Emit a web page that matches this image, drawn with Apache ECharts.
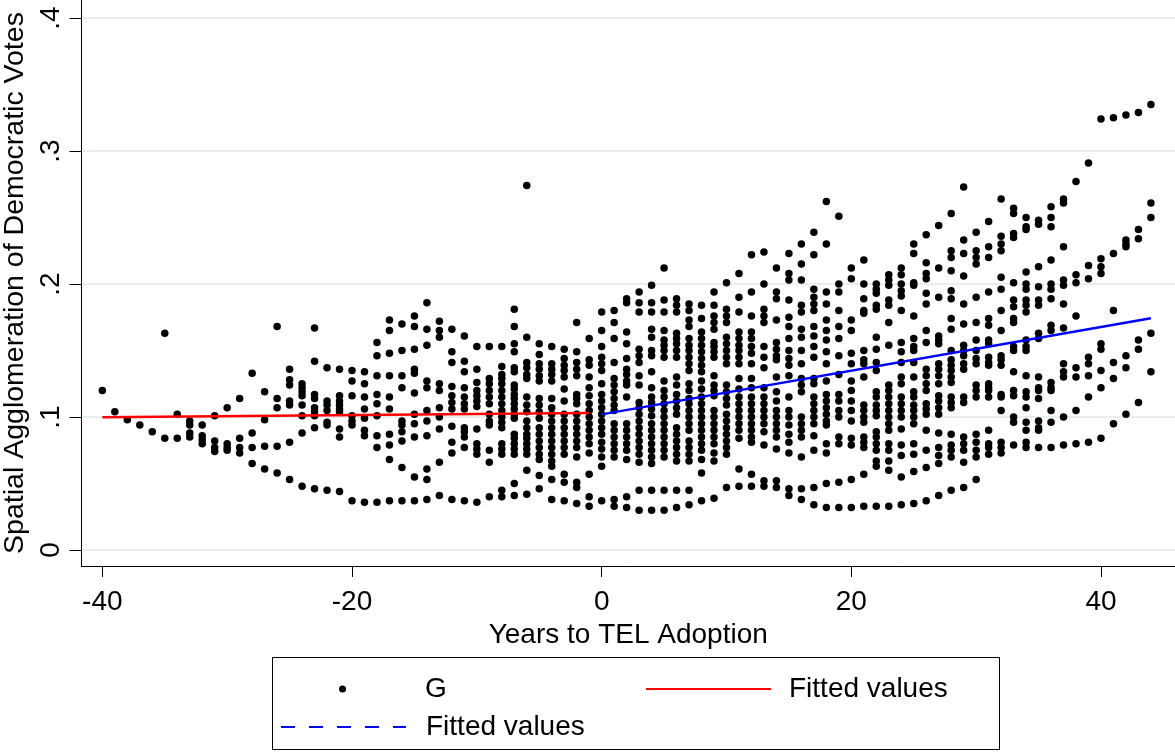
<!DOCTYPE html>
<html lang="en">
<head>
    <meta charset="UTF-8">
    <title>Spatial Agglomeration of Democratic Votes</title>
    <script src="https://cdn.jsdelivr.net/npm/echarts@6/dist/echarts.min.js"></script>
    <style>
        html, body { margin: 0; padding: 0; background: #fff; }
    </style>
</head>
<body>
    <div id="main" style="width: 1175px; height: 754px;"></div>

    <script>
        // Years to TEL adoption (one column of dots per year)
        var years = [-40, -39, -38, -37, -36, -35, -34, -33, -32, -31, -30, -29, -28, -27, -26, -25, -24, -23, -22, -21,
            -20, -19, -18, -17, -16, -15, -14, -13, -12, -11, -10, -9, -8, -7, -6, -5, -4, -3, -2, -1,
            0, 1, 2, 3, 4, 5, 6, 7, 8, 9, 10, 11, 12, 13, 14, 15, 16, 17, 18, 19, 20,
            21, 22, 23, 24, 25, 26, 27, 28, 29, 30, 31, 32, 33, 34, 35, 36, 37, 38, 39, 40, 41, 42, 43, 44];

        // G values, one list per year (same order as years)
        var gValues = [
            [0.120], [0.104], [0.098], [0.094], [0.089],
            [0.163, 0.084], [0.102, 0.084],
            [0.097, 0.094, 0.088, 0.085],
            [0.094, 0.086, 0.083, 0.080],
            [0.101, 0.082, 0.077, 0.074],
            [0.107, 0.080, 0.077, 0.075],
            [0.114, 0.084, 0.077, 0.073],
            [0.133, 0.088, 0.077, 0.065],
            [0.119, 0.098, 0.078, 0.061],
            [0.168, 0.114, 0.107, 0.078, 0.058],
            [0.136, 0.128, 0.124, 0.112, 0.109, 0.081, 0.053],
            [0.125, 0.122, 0.119, 0.116, 0.109, 0.101, 0.088, 0.048],
            [0.167, 0.142, 0.117, 0.114, 0.107, 0.104, 0.101, 0.092, 0.046],
            [0.137, 0.112, 0.109, 0.105, 0.096, 0.094, 0.045],
            [0.136, 0.116, 0.112, 0.109, 0.106, 0.104, 0.091, 0.085, 0.044],
            // -20
            [0.135, 0.127, 0.116, 0.101, 0.097, 0.094, 0.037],
            [0.134, 0.125, 0.115, 0.106, 0.099, 0.090, 0.086, 0.036],
            [0.156, 0.146, 0.131, 0.117, 0.110, 0.101, 0.086, 0.077, 0.036],
            [0.173, 0.165, 0.148, 0.131, 0.115, 0.106, 0.087, 0.079, 0.068, 0.037],
            [0.170, 0.150, 0.131, 0.122, 0.097, 0.094, 0.089, 0.082, 0.062, 0.037],
            [0.176, 0.168, 0.151, 0.136, 0.133, 0.118, 0.102, 0.095, 0.085, 0.055, 0.037],
            [0.186, 0.166, 0.154, 0.127, 0.122, 0.105, 0.097, 0.086, 0.061, 0.053, 0.038],
            [0.172, 0.165, 0.160, 0.125, 0.120, 0.107, 0.100, 0.091, 0.066, 0.041],
            [0.166, 0.149, 0.141, 0.123, 0.116, 0.111, 0.106, 0.093, 0.081, 0.073, 0.038],
            [0.161, 0.142, 0.134, 0.122, 0.115, 0.110, 0.106, 0.092, 0.089, 0.085, 0.077, 0.037],
            [0.153, 0.136, 0.126, 0.120, 0.116, 0.112, 0.108, 0.091, 0.080, 0.076, 0.072, 0.036],
            [0.153, 0.129, 0.125, 0.120, 0.115, 0.110, 0.102, 0.097, 0.094, 0.075, 0.066, 0.040],
            [0.153, 0.138, 0.132, 0.129, 0.125, 0.120, 0.115, 0.110, 0.105, 0.100, 0.096, 0.092, 0.080, 0.076, 0.072, 0.045, 0.040],
            [0.181, 0.168, 0.155, 0.149, 0.137, 0.134, 0.124, 0.121, 0.117, 0.114, 0.110, 0.106, 0.102, 0.099, 0.087, 0.084, 0.080, 0.076, 0.072, 0.050, 0.041],
            [0.274, 0.160, 0.141, 0.137, 0.132, 0.129, 0.115, 0.109, 0.104, 0.097, 0.092, 0.087, 0.084, 0.080, 0.076, 0.072, 0.060, 0.042],
            [0.155, 0.147, 0.140, 0.136, 0.131, 0.127, 0.114, 0.109, 0.104, 0.099, 0.092, 0.087, 0.082, 0.077, 0.072, 0.068, 0.056, 0.046],
            [0.153, 0.140, 0.136, 0.132, 0.127, 0.114, 0.107, 0.102, 0.097, 0.092, 0.087, 0.082, 0.077, 0.072, 0.067, 0.063, 0.053, 0.038],
            [0.151, 0.144, 0.139, 0.135, 0.130, 0.121, 0.112, 0.102, 0.097, 0.092, 0.087, 0.082, 0.077, 0.072, 0.057, 0.051, 0.037],
            [0.171, 0.149, 0.141, 0.136, 0.131, 0.117, 0.114, 0.110, 0.102, 0.097, 0.092, 0.087, 0.082, 0.077, 0.070, 0.051, 0.047, 0.035],
            [0.159, 0.143, 0.139, 0.130, 0.122, 0.116, 0.110, 0.105, 0.100, 0.095, 0.090, 0.085, 0.080, 0.073, 0.057, 0.040, 0.033],
            // 0
            [0.179, 0.165, 0.153, 0.145, 0.140, 0.135, 0.125, 0.117, 0.112, 0.107, 0.102, 0.097, 0.092, 0.087, 0.081, 0.076, 0.070, 0.063, 0.037],
            [0.180, 0.171, 0.159, 0.141, 0.129, 0.124, 0.119, 0.114, 0.109, 0.105, 0.095, 0.090, 0.085, 0.080, 0.075, 0.070, 0.038, 0.033],
            [0.189, 0.186, 0.164, 0.155, 0.144, 0.136, 0.132, 0.127, 0.124, 0.115, 0.095, 0.090, 0.085, 0.080, 0.075, 0.068, 0.040, 0.032],
            [0.194, 0.186, 0.179, 0.151, 0.146, 0.141, 0.131, 0.124, 0.111, 0.107, 0.102, 0.097, 0.092, 0.087, 0.082, 0.077, 0.072, 0.066, 0.045, 0.030],
            [0.199, 0.186, 0.179, 0.166, 0.160, 0.150, 0.146, 0.134, 0.122, 0.115, 0.111, 0.106, 0.101, 0.095, 0.090, 0.085, 0.080, 0.075, 0.070, 0.065, 0.045, 0.030],
            [0.212, 0.188, 0.179, 0.165, 0.158, 0.154, 0.150, 0.145, 0.127, 0.120, 0.115, 0.110, 0.105, 0.100, 0.095, 0.090, 0.085, 0.080, 0.075, 0.070, 0.045, 0.030],
            [0.189, 0.184, 0.179, 0.163, 0.159, 0.155, 0.150, 0.145, 0.130, 0.124, 0.117, 0.112, 0.107, 0.102, 0.092, 0.087, 0.082, 0.077, 0.072, 0.067, 0.045, 0.032],
            [0.185, 0.180, 0.173, 0.168, 0.159, 0.154, 0.150, 0.145, 0.140, 0.135, 0.125, 0.120, 0.114, 0.110, 0.105, 0.100, 0.095, 0.090, 0.082, 0.077, 0.072, 0.067, 0.045, 0.034],
            [0.184, 0.174, 0.164, 0.159, 0.154, 0.149, 0.144, 0.139, 0.134, 0.127, 0.121, 0.115, 0.110, 0.105, 0.100, 0.095, 0.090, 0.085, 0.080, 0.075, 0.068, 0.058, 0.037],
            [0.194, 0.184, 0.176, 0.171, 0.166, 0.156, 0.153, 0.149, 0.145, 0.131, 0.124, 0.120, 0.116, 0.105, 0.100, 0.095, 0.090, 0.085, 0.080, 0.073, 0.067, 0.039],
            [0.201, 0.181, 0.176, 0.171, 0.160, 0.155, 0.150, 0.145, 0.140, 0.124, 0.119, 0.114, 0.109, 0.102, 0.097, 0.092, 0.087, 0.082, 0.077, 0.072, 0.047],
            [0.208, 0.190, 0.179, 0.164, 0.159, 0.154, 0.150, 0.145, 0.140, 0.129, 0.121, 0.115, 0.110, 0.105, 0.100, 0.095, 0.090, 0.084, 0.061, 0.048],
            [0.222, 0.194, 0.176, 0.164, 0.159, 0.153, 0.148, 0.140, 0.129, 0.122, 0.115, 0.110, 0.105, 0.100, 0.095, 0.090, 0.085, 0.081, 0.057, 0.048],
            [0.224, 0.200, 0.181, 0.176, 0.171, 0.153, 0.145, 0.137, 0.122, 0.115, 0.110, 0.105, 0.100, 0.095, 0.089, 0.079, 0.052, 0.048],
            [0.212, 0.194, 0.189, 0.173, 0.156, 0.151, 0.146, 0.143, 0.130, 0.119, 0.112, 0.105, 0.100, 0.095, 0.090, 0.085, 0.076, 0.052, 0.047],
            [0.223, 0.208, 0.203, 0.188, 0.175, 0.168, 0.159, 0.150, 0.144, 0.139, 0.131, 0.115, 0.105, 0.100, 0.094, 0.087, 0.081, 0.073, 0.046, 0.041],
            [0.230, 0.215, 0.203, 0.184, 0.179, 0.166, 0.160, 0.150, 0.140, 0.129, 0.124, 0.119, 0.100, 0.095, 0.090, 0.085, 0.070, 0.046, 0.038],
            [0.239, 0.222, 0.196, 0.190, 0.185, 0.180, 0.168, 0.161, 0.153, 0.145, 0.129, 0.125, 0.115, 0.110, 0.105, 0.100, 0.095, 0.086, 0.075, 0.047, 0.034],
            [0.262, 0.230, 0.194, 0.185, 0.173, 0.165, 0.158, 0.149, 0.140, 0.127, 0.117, 0.112, 0.107, 0.102, 0.097, 0.094, 0.080, 0.073, 0.050, 0.032],
            [0.251, 0.200, 0.194, 0.180, 0.168, 0.159, 0.146, 0.132, 0.117, 0.112, 0.105, 0.100, 0.085, 0.080, 0.051, 0.032],
            [0.212, 0.204, 0.173, 0.165, 0.148, 0.140, 0.127, 0.120, 0.112, 0.105, 0.097, 0.084, 0.079, 0.053, 0.032],
            // 21
            [0.218, 0.200, 0.189, 0.180, 0.178, 0.150, 0.143, 0.140, 0.130, 0.109, 0.105, 0.100, 0.096, 0.085, 0.081, 0.077, 0.057, 0.033],
            [0.200, 0.196, 0.193, 0.184, 0.181, 0.160, 0.151, 0.141, 0.135, 0.119, 0.115, 0.109, 0.105, 0.101, 0.089, 0.085, 0.080, 0.075, 0.067, 0.063, 0.033],
            [0.207, 0.203, 0.199, 0.188, 0.184, 0.171, 0.154, 0.124, 0.120, 0.115, 0.110, 0.105, 0.100, 0.095, 0.090, 0.080, 0.075, 0.067, 0.060, 0.033],
            [0.212, 0.207, 0.200, 0.195, 0.191, 0.180, 0.156, 0.149, 0.141, 0.130, 0.125, 0.115, 0.110, 0.105, 0.100, 0.091, 0.079, 0.071, 0.055, 0.034],
            [0.230, 0.223, 0.201, 0.199, 0.176, 0.159, 0.153, 0.150, 0.141, 0.130, 0.119, 0.115, 0.109, 0.105, 0.100, 0.095, 0.080, 0.072, 0.059, 0.035],
            [0.237, 0.216, 0.208, 0.204, 0.193, 0.185, 0.165, 0.156, 0.136, 0.131, 0.125, 0.120, 0.110, 0.106, 0.102, 0.090, 0.075, 0.062, 0.037],
            [0.244, 0.212, 0.190, 0.161, 0.158, 0.155, 0.140, 0.136, 0.131, 0.125, 0.116, 0.112, 0.107, 0.102, 0.088, 0.077, 0.071, 0.065, 0.041],
            [0.253, 0.225, 0.220, 0.210, 0.195, 0.189, 0.174, 0.166, 0.150, 0.143, 0.139, 0.135, 0.130, 0.126, 0.115, 0.111, 0.107, 0.087, 0.079, 0.075, 0.070, 0.045],
            [0.273, 0.233, 0.223, 0.206, 0.185, 0.170, 0.154, 0.150, 0.146, 0.140, 0.136, 0.115, 0.111, 0.085, 0.080, 0.075, 0.066, 0.047],
            [0.239, 0.225, 0.220, 0.215, 0.190, 0.171, 0.158, 0.150, 0.144, 0.140, 0.124, 0.120, 0.115, 0.087, 0.081, 0.075, 0.070, 0.053],
            [0.247, 0.228, 0.220, 0.194, 0.174, 0.169, 0.158, 0.155, 0.145, 0.141, 0.139, 0.125, 0.122, 0.120, 0.115, 0.090, 0.080, 0.077, 0.072],
            [0.264, 0.236, 0.230, 0.225, 0.205, 0.196, 0.180, 0.165, 0.146, 0.143, 0.139, 0.117, 0.115, 0.105, 0.081, 0.077, 0.073],
            [0.257, 0.253, 0.238, 0.235, 0.201, 0.188, 0.183, 0.174, 0.171, 0.153, 0.150, 0.134, 0.120, 0.116, 0.100, 0.096, 0.079],
            [0.250, 0.243, 0.241, 0.209, 0.200, 0.196, 0.188, 0.184, 0.179, 0.158, 0.153, 0.150, 0.131, 0.119, 0.115, 0.107, 0.096, 0.090, 0.081, 0.077],
            [0.248, 0.245, 0.213, 0.198, 0.188, 0.184, 0.163, 0.159, 0.130, 0.122, 0.120, 0.114, 0.097, 0.092, 0.090, 0.077],
            [0.258, 0.250, 0.243, 0.218, 0.200, 0.196, 0.189, 0.169, 0.165, 0.126, 0.122, 0.120, 0.105, 0.096, 0.077],
            [0.264, 0.261, 0.228, 0.203, 0.199, 0.185, 0.167, 0.140, 0.134, 0.130, 0.100, 0.079],
            [0.277, 0.207, 0.201, 0.176, 0.137, 0.130, 0.105, 0.080],
            [0.291, 0.214, 0.204, 0.145, 0.140, 0.131, 0.115, 0.081],
            [0.324, 0.219, 0.213, 0.208, 0.155, 0.151, 0.135, 0.122, 0.084],
            [0.325, 0.223, 0.180, 0.141, 0.129, 0.095],
            [0.327, 0.233, 0.230, 0.228, 0.146, 0.137, 0.102],
            [0.329, 0.241, 0.234, 0.158, 0.151, 0.111],
            [0.335, 0.261, 0.250, 0.163, 0.134]
        ];

        // Fitted lines (end points), before and after adoption
        var preFitX = [-40, -1];
        var preFitY = [0.0998, 0.1030];
        var postFitX = [0, 44];
        var postFitY = [0.1020, 0.1742];

        var xTicks = [-40, -20, 0, 20, 40];
        var yTicks = [0, 0.1, 0.2, 0.3, 0.4];

        var FONT = "'Liberation Sans', Arial, sans-serif";

        // flatten into [year, G] pairs
        var points = [];
        years.forEach(function (yr, i) {
            gValues[i].forEach(function (v) {
                points.push([yr, v]);
            });
        });

        var chart = echarts.init(document.getElementById('main'));

        var option = {
            backgroundColor: '#ffffff',
            animation: false,
            grid: {
                left: 81.5,
                right: 0,
                top: 0,
                bottom: 188,
                containLabel: false,
                outerBoundsMode: 'none'
            },
            xAxis: {
                type: 'value',
                min: -41.67,
                max: 45.93,
                name: 'Years to TEL Adoption',
                nameLocation: 'middle',
                nameGap: 52,
                nameTextStyle: { fontFamily: FONT, fontSize: 28, color: '#000' },
                axisLine: { show: true, onZero: false, lineStyle: { color: '#000', width: 1 } },
                axisTick: { show: true, length: 11, customValues: xTicks, lineStyle: { color: '#000' } },
                axisLabel: {
                    customValues: xTicks,
                    margin: 22,
                    fontFamily: FONT, fontSize: 28, color: '#000'
                },
                splitLine: { show: false }
            },
            yAxis: {
                type: 'value',
                min: -0.012,
                max: 0.41353,
                name: 'Spatial Agglomeration of Democratic Votes',
                nameLocation: 'middle',
                nameRotate: 90,
                nameGap: 44,
                nameTextStyle: { fontFamily: FONT, fontSize: 28.5, color: '#000' },
                axisLine: { show: true, onZero: false, lineStyle: { color: '#000', width: 1 } },
                axisTick: { show: true, length: 12, customValues: yTicks, lineStyle: { color: '#000' } },
                axisLabel: {
                    customValues: yTicks,
                    rotate: 90,
                    margin: 16,
                    fontFamily: FONT, fontSize: 28, color: '#000',
                    formatter: function (v) {
                        return v === 0 ? '0' : String(+v.toFixed(1)).replace(/^0/, '');
                    }
                },
                splitLine: { show: true, lineStyle: { color: '#e7eff1', width: 2 } }
            },
            legend: [
                {
                    data: ['G'],
                    left: 339, top: 675, padding: 0,
                    itemWidth: 7, itemHeight: 7,
                    formatter: '{g|}G',
                    textStyle: { fontFamily: FONT, fontSize: 28, color: '#000', rich: { g: { width: 74 } } }
                },
                {
                    data: ['Fitted values (pre)'],
                    left: 645, top: 675, padding: 0,
                    itemWidth: 125, itemHeight: 2,
                    itemStyle: { opacity: 0 },
                    formatter: '{g|}Fitted values',
                    textStyle: { fontFamily: FONT, fontSize: 28, color: '#000', rich: { g: { width: 13 } } }
                },
                {
                    data: ['Fitted values (post)'],
                    left: 280, top: 713, padding: 0,
                    itemWidth: 125, itemHeight: 2,
                    itemStyle: { opacity: 0 },
                    lineStyle: { type: [14, 14], width: 2 },
                    formatter: '{g|}Fitted values',
                    textStyle: { fontFamily: FONT, fontSize: 28, color: '#000', rich: { g: { width: 15 } } }
                }
            ],
            graphic: [
                {
                    type: 'rect',
                    shape: { x: 272.5, y: 657.5, width: 727, height: 92 },
                    style: { fill: 'none', stroke: '#000', lineWidth: 1 },
                    silent: true
                }
            ],
            series: [
                {
                    name: 'G',
                    type: 'scatter',
                    data: points,
                    symbol: 'circle',
                    symbolSize: 7.5,
                    itemStyle: { color: '#000', opacity: 1 }
                },
                {
                    name: 'Fitted values (pre)',
                    type: 'line',
                    data: preFitX.map(function (x, i) { return [x, preFitY[i]]; }),
                    symbol: 'none',
                    color: '#ff0000',
                    lineStyle: { color: '#ff0000', width: 2.5 }
                },
                {
                    name: 'Fitted values (post)',
                    type: 'line',
                    data: postFitX.map(function (x, i) { return [x, postFitY[i]]; }),
                    symbol: 'none',
                    color: '#0000ff',
                    lineStyle: { color: '#0000ff', width: 2.5 }
                }
            ]
        };

        chart.setOption(option);
    </script>
</body>
</html>
